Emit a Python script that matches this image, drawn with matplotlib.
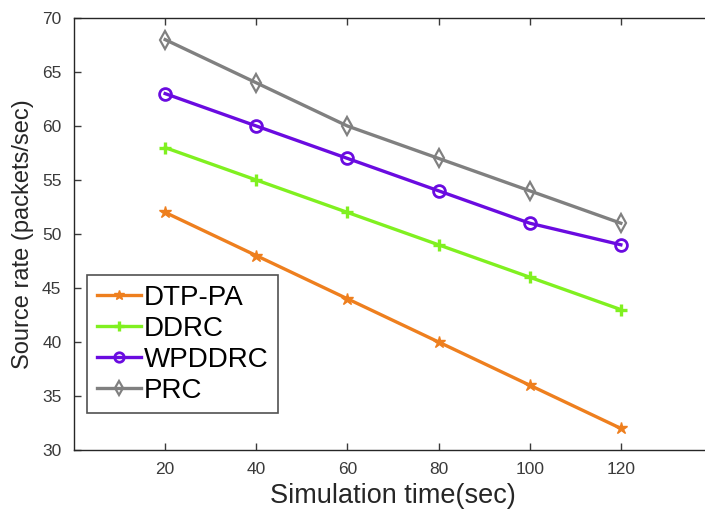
import matplotlib
matplotlib.use("Agg")
import matplotlib.pyplot as plt

plt.rcParams['font.family'] = ['Liberation Sans', 'DejaVu Sans']

sim_time = [20, 40, 60, 80, 100, 120]
dtp_pa = [52, 48, 44, 40, 36, 32]
ddrc = [58, 55, 52, 49, 46, 43]
wpddrc = [63, 60, 57, 54, 51, 49]
prc = [68, 64, 60, 57, 54, 51]

x_ticks = [20, 40, 60, 80, 100, 120]
y_ticks = [30, 35, 40, 45, 50, 55, 60, 65, 70]

fig = plt.figure(figsize=(7.05, 5.13), dpi=100)
ax = fig.add_axes([74 / 705, 1 - 450 / 513, (712 - 74) / 705, (450 - 18) / 513])

ax.plot(sim_time, dtp_pa, color='#EE7F1E', lw=2.4, marker='*', ms=9,
        mfc='#EE7F1E', mec='#EE7F1E', label='DTP-PA')
ax.plot(sim_time, ddrc, color='#80F020', lw=2.4, marker='+', ms=9, mew=2.4,
        label='DDRC')
ax.plot(sim_time, wpddrc, color='#6A0BE0', lw=2.4, marker='o', ms=8.5,
        mfc='none', mec='#6A0BE0', mew=2, label='WPDDRC')
ax.plot(sim_time, prc, color='#808080', lw=2.4, marker='d', ms=9,
        mfc='none', mec='#808080', mew=1.6, label='PRC')

ax.set_xlim(0, 140)
ax.set_ylim(30, 70)
ax.set_xticks(x_ticks)
ax.set_yticks(y_ticks)
ax.tick_params(direction='in', top=True, right=False, labelsize=12.5,
               colors='#3a3a3a', length=5, width=1, pad=9)
ax.spines['right'].set_visible(False)
for s in ax.spines.values():
    s.set_color('#262626')
    s.set_linewidth(1)

ax.set_xlabel('Simulation time(sec)', fontsize=19.5, color='#262626', labelpad=4)
ax.set_ylabel('Source rate (packets/sec)', fontsize=17, color='#262626', labelpad=6)

leg = ax.legend(loc='upper left', bbox_to_anchor=((87 - 74) / 638, (450 - 275) / 432),
                fontsize=20, frameon=True, fancybox=False, edgecolor='#262626',
                handlelength=1.6, handletextpad=0.1, borderpad=0.35,
                labelspacing=0.18, borderaxespad=0, markerscale=0.8)
leg.get_frame().set_linewidth(1.2)

fig.savefig('out.png', dpi=100)
